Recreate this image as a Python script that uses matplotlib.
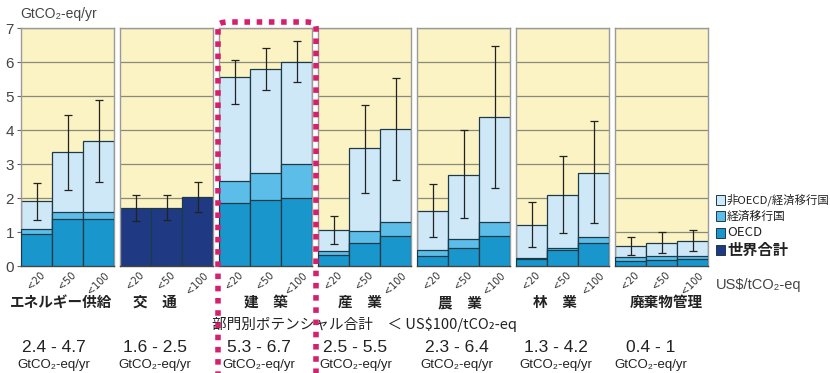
import matplotlib
matplotlib.use("Agg")
import matplotlib.pyplot as plt
from matplotlib.patches import FancyBboxPatch, Rectangle
import numpy as np

plt.rcParams['font.family'] = ['Noto Sans CJK JP', 'DejaVu Sans']

sectors = ["エネルギー供給", "交　通", "建　築", "産　業", "農　業", "林　業", "廃棄物管理"]
price_labels = ["<20", "<50", "<100"]
ranges = ["2.4 - 4.7", "1.6 - 2.5", "5.3 - 6.7", "2.5 - 5.5", "2.3 - 6.4", "1.3 - 4.2", "0.4 - 1"]

# cumulative tops per sector (OECD, EIT, total); None => world total only
oecd = [[0.95, 1.38, 1.38], None, [1.85, 1.93, 2.00], [0.33, 0.69, 0.89],
        [0.29, 0.54, 0.87], [0.20, 0.46, 0.68], [0.16, 0.18, 0.20]]
eit = [[1.09, 1.59, 1.59], None, [2.49, 2.75, 3.00], [0.44, 1.03, 1.29],
       [0.48, 0.80, 1.30], [0.23, 0.54, 0.85], [0.27, 0.29, 0.30]]
total = [[1.91, 3.35, 3.69], [1.70, 1.72, 2.02], [5.55, 5.78, 6.01], [1.07, 3.46, 4.03],
         [1.61, 2.68, 4.38], [1.20, 2.10, 2.75], [0.58, 0.69, 0.75]]
err_hi = [[2.45, 4.43, 4.89], [2.08, 2.10, 2.48], [6.07, 6.41, 6.63], [1.47, 4.75, 5.53],
          [2.40, 3.99, 6.46], [1.88, 3.25, 4.26], [0.86, 1.01, 1.06]]
err_lo = [[1.35, 2.25, 2.48], [1.33, 1.35, 1.59], [4.76, 5.18, 5.40], [0.66, 2.16, 2.52],
          [0.85, 1.42, 2.30], [0.55, 0.96, 1.27], [0.31, 0.39, 0.43]]

legend_labels = ["非OECD/経済移行国", "経済移行国", "OECD", "世界合計"]

C_NON = "#cfe8f8"
C_EIT = "#5cbde8"
C_OECD = "#1997cc"
C_WORLD = "#1f3a82"
EDGE = "#1d3a48"
BG = "#fbf3c3"
GRID = "#8a8a78"

W, H = 830, 373
fig = plt.figure(figsize=(W / 100, H / 100), dpi=100)
fig.patch.set_facecolor("white")

def fx(px):
    return px / W

def fy(py):
    return 1 - py / H

NUMFONT = ["Liberation Sans Narrow", "Liberation Sans", "DejaVu Sans"]
left0, step, pw = 21, 99, 93
ytop, ybot = 28, 266
x = np.arange(3)
sector_dx = [-6, -12, 0, -5, -4, -8, 5]
range_dx = [-14, -12, -7, -9, -7, -7, -11]
for i in range(7):
    ax = fig.add_axes([fx(left0 + i * step), fy(ybot), fx(pw), (ybot - ytop) / H])
    ax.set_facecolor(BG)
    ax.set_xlim(-0.5, 2.5)
    ax.set_ylim(0, 7)
    for yv in range(1, 8):
        ax.axhline(yv, color=GRID, lw=0.9, zorder=1)
    if oecd[i] is None:
        ax.bar(x, total[i], width=1.0, color=C_WORLD, edgecolor=EDGE, lw=0.9, zorder=2)
    else:
        ax.bar(x, total[i], width=1.0, color=C_NON, edgecolor=EDGE, lw=0.9, zorder=2)
        ax.bar(x, eit[i], width=1.0, color=C_EIT, edgecolor=EDGE, lw=0.9, zorder=3)
        ax.bar(x, oecd[i], width=1.0, color=C_OECD, edgecolor=EDGE, lw=0.9, zorder=4)
    hi = np.array(err_hi[i]); lo = np.array(err_lo[i])
    mid = (hi + lo) / 2
    ax.errorbar(x, mid, yerr=(hi - lo) / 2, fmt="none", ecolor="#222222",
                elinewidth=0.9, capsize=3, capthick=0.9, zorder=6)
    for s in ax.spines.values():
        s.set_color("#9a9a9a")
        s.set_linewidth(1.0)
    ax.spines["bottom"].set_color("#444444")
    ax.set_xticks(x)
    ax.set_xticklabels(price_labels, rotation=45, fontsize=7, color="#333333",
                       family=["DejaVu Sans"], ha="center")
    ax.tick_params(axis="x", length=0, pad=3)
    if i == 0:
        ax.set_yticks(range(8))
        ax.set_yticklabels([str(v) for v in range(8)], fontsize=11, color="#444444",
                           family=["Liberation Sans", "DejaVu Sans"])
        ax.tick_params(axis="y", length=3, pad=2, color="#666666")
    else:
        ax.set_yticks([])
    cx = left0 + i * step + pw / 2
    fig.text(fx(cx + sector_dx[i]), fy(302), sectors[i], ha="center", va="center", fontsize=10.5,
             color="#222222", weight="bold")
    fig.text(fx(cx + range_dx[i]), fy(348), ranges[i], ha="center", va="center", fontsize=12.5,
             color="#222222", family=NUMFONT)
    fig.text(fx(cx + range_dx[i]), fy(365), "GtCO₂-eq/yr", ha="center", va="center", fontsize=9.5,
             color="#222222", family=NUMFONT)

fig.text(fx(20), fy(14), "GtCO₂-eq/yr", ha="left", va="center", fontsize=10,
         color="#444444", family=["Liberation Sans", "DejaVu Sans"])
fig.text(fx(716), fy(285), "US$/tCO₂-eq", ha="left", va="center", fontsize=10.5,
         color="#444444", family=["Liberation Sans", "DejaVu Sans"])
fig.text(fx(365), fy(324), "部門別ポテンシャル合計　＜ US$100/tCO₂-eq", ha="center",
         va="center", fontsize=10.5, color="#222222")

# legend
leg_cols = [C_NON, C_EIT, C_OECD, C_WORLD]
leg_y = [200, 216, 233, 250]
leg_fs = [8.2, 8.5, 9.5, 11]
for c, lab, yy, fs in zip(leg_cols, legend_labels, leg_y, leg_fs):
    fig.patches.append(Rectangle((fx(716), fy(yy + 5)), fx(9), 10 / H, transform=fig.transFigure,
                                 facecolor=c, edgecolor=EDGE, lw=0.7))
    fig.text(fx(727), fy(yy), lab, ha="left", va="center", fontsize=fs,
             color="#222222", weight="bold" if lab == "世界合計" else "normal")

# dotted highlight box around the building sector
box = FancyBboxPatch((fx(218), fy(380)), fx(98), (380 - 22) / H, transform=fig.transFigure,
                     boxstyle="round,pad=0,rounding_size=0.012", fill=False,
                     edgecolor="#d6206e", lw=4, linestyle=(0, (1.0, 1.2)), zorder=10,
                     clip_on=False)
fig.patches.append(box)

fig.savefig("out.png", dpi=100)
